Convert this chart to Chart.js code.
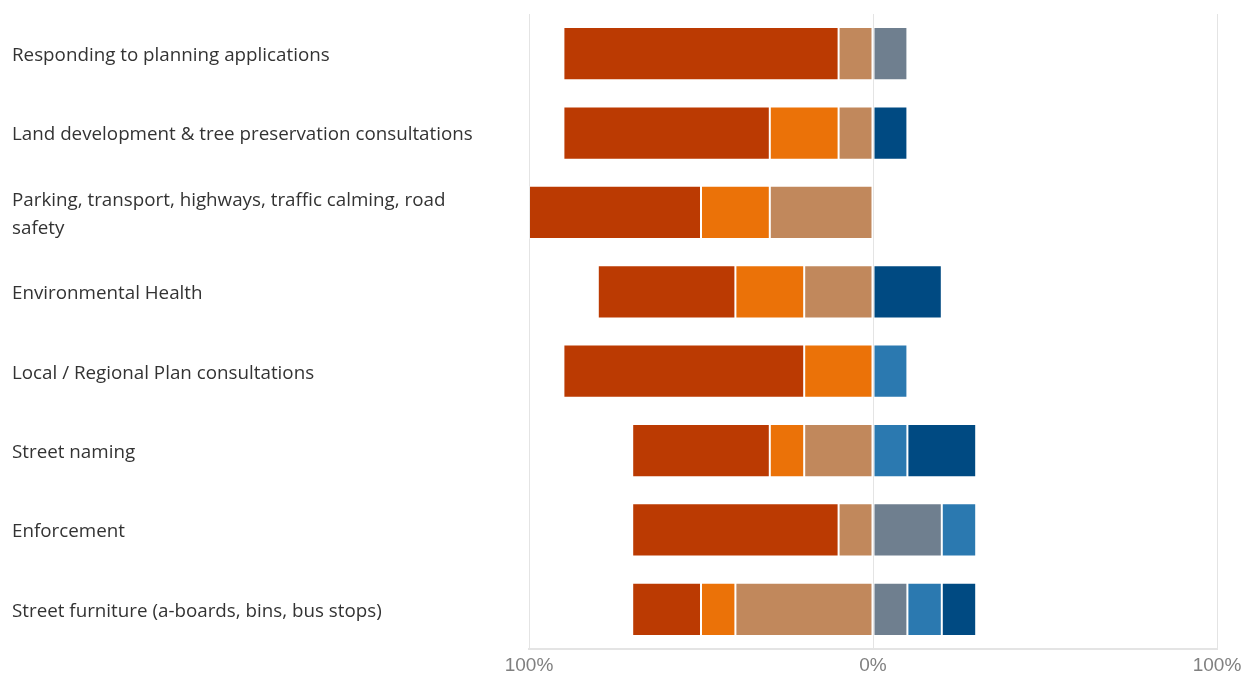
<!DOCTYPE html>
<html>
<head>
<meta charset="utf-8">
<script src="https://cdn.jsdelivr.net/npm/chart.js@4/dist/chart.umd.min.js"></script>
<style>
    html, body { margin: 0; padding: 0; background: #fff; }
    #wrap { width: 1244px; height: 673px; }
</style>
</head>
<body>
<div id="wrap"><canvas id="likertChart"></canvas></div>
<script>
    const categories = [
        "Responding to planning applications",
        "Land development & tree preservation consultations",
        ["Parking, transport, highways, traffic calming, road", "safety"],
        "Environmental Health",
        "Local / Regional Plan consultations",
        "Street naming",
        "Enforcement",
        "Street furniture (a-boards, bins, bus stops)"
    ];

    // negative side, from the 0% line outward
    const slightlyNegative = [-10, -10, -30, -20, 0, -20, -10, -40];
    const negative = [0, -20, -20, -20, -20, -10, 0, -10];
    const veryNegative = [-80, -60, -50, -40, -70, -40, -60, -20];
    // positive side, from the 0% line outward
    const slightlyPositive = [10, 0, 0, 0, 0, 0, 20, 10];
    const positive = [0, 0, 0, 0, 10, 10, 10, 10];
    const veryPositive = [0, 10, 0, 20, 0, 20, 0, 10];

    const axisTicks = [-100, 0, 100];

    const gridColor = '#e4e4e4';

    function makeSet(label, data, color)
    {
        return {
            label: label,
            data: data,
            backgroundColor: color,
            borderColor: 'rgba(255,255,255,0.25)',
            borderWidth: 1,
            borderSkipped: false,
            categoryPercentage: 1,
            barPercentage: 0.67
        };
    }

    const datasets = [
        makeSet('Slightly negative', slightlyNegative, '#c1885c'),
        makeSet('Negative', negative, '#eb7208'),
        makeSet('Very negative', veryNegative, '#bb3a02'),
        makeSet('Slightly positive', slightlyPositive, '#6f7f8f'),
        makeSet('Positive', positive, '#2b79b0'),
        makeSet('Very positive', veryPositive, '#004a82')
    ];

    new Chart(document.getElementById('likertChart'), {
        type: 'bar',
        data: {
            labels: categories,
            datasets: datasets
        },
        options: {
            indexAxis: 'y',
            responsive: true,
            maintainAspectRatio: false,
            animation: false,
            layout: {
                padding: { left: 12, right: 27, top: 14, bottom: 0 }
            },
            plugins: {
                legend: { display: false },
                tooltip: { enabled: false }
            },
            scales: {
                x: {
                    stacked: true,
                    min: -100,
                    max: 100,
                    afterBuildTicks: function (scale) {
                        scale.ticks = axisTicks.map(v => ({ value: v }));
                    },
                    afterFit: function (scale) {
                        scale.height = 24;
                        scale.paddingLeft = 0;
                        scale.paddingRight = 0;
                    },
                    grid: {
                        color: gridColor,
                        lineWidth: 1,
                        drawTicks: false
                    },
                    border: { display: true, color: gridColor, width: 2 },
                    ticks: {
                        padding: 5,
                        color: '#808080',
                        font: { family: '"Liberation Sans", Arial, sans-serif', size: 19 },
                        callback: function (value) {
                            return Math.abs(value) + '%';
                        }
                    }
                },
                y: {
                    stacked: true,
                    afterFit: function (scale) {
                        scale.width = 517;
                        scale.paddingTop = 0;
                        scale.paddingBottom = 0;
                    },
                    grid: { display: false },
                    border: { display: false },
                    ticks: {
                        crossAlign: 'far',
                        labelOffset: 2,
                        color: '#333333',
                        font: { family: '"Open Sans", sans-serif', size: 18.8, lineHeight: '28px' }
                    }
                }
            }
        }
    });
</script>
</body>
</html>
